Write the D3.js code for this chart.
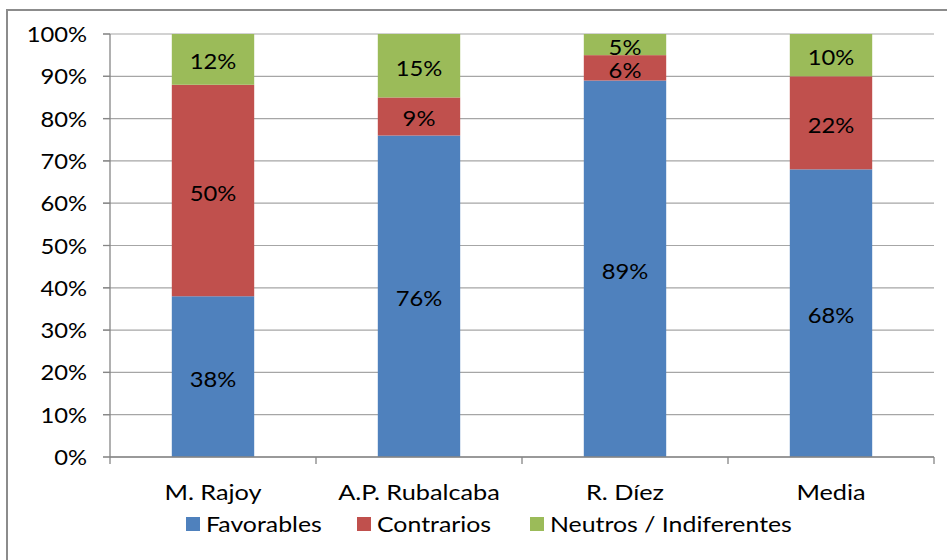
<!DOCTYPE html>
<html><head><meta charset="utf-8">
<script src="https://cdn.jsdelivr.net/npm/d3@7"></script>
<style>body{margin:0;background:#fff}svg{display:block}</style>
</head><body>
<script>
const categories = ["M. Rajoy", "A.P. Rubalcaba", "R. Díez", "Media"];
const seriesNames = ["Favorables", "Contrarios", "Neutros / Indiferentes"];
const favorables = [38, 76, 89, 68];
const contrarios = [50, 9, 6, 22];
const neutros = [12, 15, 5, 10];
const yTicks = [0,10,20,30,40,50,60,70,80,90,100];
const colors = ["#4F81BD", "#C0504D", "#9BBB59"];

const W = 947, H = 560;
const font = "Lato, 'Open Sans', sans-serif";
const SX = 1.15;
const svg = d3.select("body").append("svg").attr("width", W).attr("height", H);
svg.append("rect").attr("x", 7).attr("y", 10).attr("width", 960).attr("height", 580)
  .attr("fill", "#fff").attr("stroke", "#8c8c8c").attr("stroke-width", 2);

function label(parent, tx, ty, str, anchor, sx) {
  return parent.append("text")
    .attr("transform", `translate(${tx},${ty}) scale(${sx || SX},1)`)
    .attr("text-anchor", anchor || "start")
    .attr("font-family", font).attr("font-size", 22).attr("fill", "#000")
    .text(str);
}

const x = d3.scaleBand().domain(categories).range([110, 934]).paddingInner(0.6).paddingOuter(0.3);
const y = d3.scaleLinear().domain([0, 100]).range([457, 34]);

// gridlines
svg.append("g").selectAll("line").data(yTicks).join("line")
  .attr("x1", 103).attr("x2", 934).attr("y1", d => y(d)).attr("y2", d => y(d))
  .attr("stroke", "#a6a6a6").attr("stroke-width", 1.2);

const rows = categories.map((c, i) => ({cat: c, Favorables: favorables[i], Contrarios: contrarios[i], "Neutros / Indiferentes": neutros[i]}));
const stack = d3.stack().keys(seriesNames)(rows);

const g = svg.append("g");
stack.forEach((s, si) => {
  g.selectAll(null).data(s).join("rect")
    .attr("x", d => x(d.data.cat)).attr("width", x.bandwidth())
    .attr("y", d => y(d[1])).attr("height", d => y(d[0]) - y(d[1]))
    .attr("fill", colors[si]);
});
const lg = svg.append("g");
stack.forEach((s, si) => {
  s.forEach(d => {
    label(lg, x(d.data.cat) + x.bandwidth()/2, (y(d[0]) + y(d[1]))/2 + 10, (d[1]-d[0]) + "%", "middle", 1.08);
  });
});

// y axis
const ya = svg.append("g");
ya.append("line").attr("x1", 110).attr("x2", 110).attr("y1", 34).attr("y2", 457)
  .attr("stroke", "#868686").attr("stroke-width", 1.3);
ya.selectAll(null).data(yTicks).join("line")
  .attr("x1", 103).attr("x2", 110).attr("y1", d => y(d)).attr("y2", d => y(d))
  .attr("stroke", "#868686").attr("stroke-width", 1.3);
yTicks.forEach(t => label(ya, 87, y(t) + 8, t + "%", "end", 1.08));

// x axis
const xa = svg.append("g").attr("transform", "translate(0,457)");
xa.append("line").attr("x1", 110).attr("x2", 934).attr("stroke", "#868686").attr("stroke-width", 1.3);
const bounds = [110].concat(categories.map(c => x(c) + x.bandwidth()/2 + x.step()/2));
xa.selectAll(null).data(bounds).join("line")
  .attr("x1", d => d).attr("x2", d => d).attr("y1", 0).attr("y2", 7)
  .attr("stroke", "#868686").attr("stroke-width", 1.3);
categories.forEach(c => label(xa, x(c) + x.bandwidth()/2, 43, c, "middle"));

// legend
const legX = [186, 357, 530];
const leg = svg.append("g");
seriesNames.forEach((n, i) => {
  leg.append("rect").attr("x", legX[i]).attr("y", 517).attr("width", 14).attr("height", 14).attr("fill", colors[i]);
  label(leg, legX[i] + 20, 532, n, "start", 1.13);
});
</script>
</body></html>
